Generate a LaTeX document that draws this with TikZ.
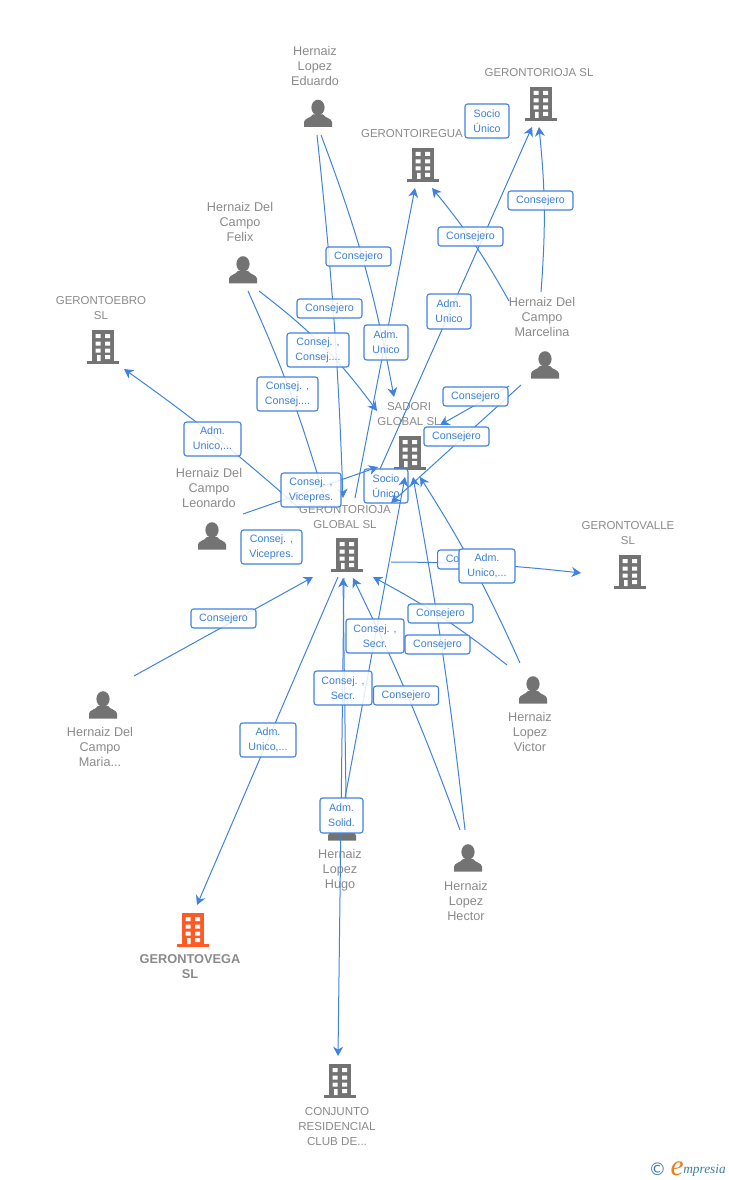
\documentclass[tikz,border=0pt]{standalone}
\usepackage{fontspec}
\setmainfont{Liberation Sans}
\newfontfamily\logofont{Liberation Serif}
\newfontfamily\dejafont{DejaVu Sans}
\usetikzlibrary{arrows.meta}
\definecolor{linkblue}{HTML}{3F82E0}
\definecolor{boxtext}{HTML}{3C7FDC}
\definecolor{icongray}{HTML}{737373}
\definecolor{textgray}{HTML}{8A8A8A}
\definecolor{iconorange}{HTML}{FF5A26}
\definecolor{logoblue}{HTML}{3F7F9E}
\definecolor{logoorange}{HTML}{F07D1A}
\tikzset{
  x=0.75pt,y=-0.75pt,
  pics/bldg/.style={code={
    \fill[#1] (-11,-17) rectangle (11,14);
    \fill[#1] (-16,14) rectangle (16,17);
    \fill[white] (-7.5,-13) rectangle (-2.5,-9) (2,-13) rectangle (7,-9)
      (-7.5,-5.5) rectangle (-2.5,-1.5) (2,-5.5) rectangle (7,-1.5)
      (-7.5,1.5) rectangle (-2.5,5.5) (2,1.5) rectangle (7,5.5)
      (-6,8) rectangle (-2.5,14) (2,8) rectangle (7,12);
  }},
  pics/persona/.style={code={
    \fill[icongray] (0,-6) ellipse (6.6 and 7.8);
    \fill[icongray] (-14,13.5) -- (-14,8.5) .. controls (-14,5) and (-7,4.5) .. (-5,1) -- (5,1)
       .. controls (7,4.5) and (14,5) .. (14,8.5) -- (14,13.5) -- cycle;
  }},
  iconpt/.style={inner sep=0pt,minimum size=0pt},
  pname/.style={align=center,inner sep=0pt,text=textgray,font=\fontsize{9.5}{11.25}\selectfont},
  cname/.style={align=center,inner sep=0pt,text=textgray,font=\fontsize{8.6}{11.25}\selectfont},
  cname2/.style={align=center,inner sep=0pt,text=textgray,font=\fontsize{8.7}{11.25}\selectfont},
  mainname/.style={align=center,inner sep=0pt,text=textgray,font=\fontsize{9.6}{11.25}\selectfont\bfseries},
  link/.style={draw=linkblue,line width=0.75pt},
  arr/.style={link,-{Stealth[length=7pt,width=7.5pt,inset=2.2pt]}},
  lbl/.style={draw=linkblue,line width=0.85pt,rounded corners=2pt,fill=white,fill opacity=0.86,text opacity=1,
     text=boxtext,align=center,inner sep=0pt,font=\fontsize{8}{11.25}\selectfont},
  bsize/.style 2 args={minimum width=#1*0.75pt,minimum height=#2*0.75pt},
  cons/.style={lbl,bsize={65}{19}},
}
\begin{document}
\begin{tikzpicture}
\useasboundingbox (0,0) rectangle (728,1180);
% icons
\node[iconpt] (iEduardo) at (318,113.5) {}; \pic at (iEduardo) {persona};
\node[iconpt] (iFelix) at (243,270) {}; \pic at (iFelix) {persona};
\node[iconpt] (iMarcelina) at (545,365) {}; \pic at (iMarcelina) {persona};
\node[iconpt] (iLeonardo) at (212,536) {}; \pic at (iLeonardo) {persona};
\node[iconpt] (iMaria) at (103,705) {}; \pic at (iMaria) {persona};
\node[iconpt] (iVictor) at (533,690) {}; \pic at (iVictor) {persona};
\node[iconpt] (iHugo) at (342,827) {}; \pic at (iHugo) {persona};
\node[iconpt] (iHector) at (468,858) {}; \pic at (iHector) {persona};
\node[iconpt] (iSL) at (541,104) {}; \pic at (iSL) {bldg=icongray};
\node[iconpt] (iIregua) at (423,165) {}; \pic at (iIregua) {bldg=icongray};
\node[iconpt] (iEbro) at (103,347) {}; \pic at (iEbro) {bldg=icongray};
\node[iconpt] (iSadori) at (410,453) {}; \pic at (iSadori) {bldg=icongray};
\node[iconpt] (iGlobal) at (347,555) {}; \pic at (iGlobal) {bldg=icongray};
\node[iconpt] (iValle) at (630,572) {}; \pic at (iValle) {bldg=icongray};
\node[iconpt] (iVega) at (193,930) {}; \pic at (iVega) {bldg=iconorange};
\node[iconpt] (iConjunto) at (340,1081) {}; \pic at (iConjunto) {bldg=icongray};
% names
\node[pname] (nEduardo) at (315,66) {Hernaiz\\Lopez\\Eduardo};
\node[cname] (nSL) at (539,73) {GERONTORIOJA SL};
\node[cname] (nIregua) at (412,134) {GERONTOIREGUA};
\node[pname] (nFelix) at (240,222) {Hernaiz Del\\Campo\\Felix};
\node[cname] (nEbro) at (101,308.5) {GERONTOEBRO\\SL};
\node[pname] (nMarcelina) at (542,317) {Hernaiz Del\\Campo\\Marcelina};
\node[cname] (nSadori) at (409,414.5) {SADORI\\GLOBAL SL};
\node[pname] (nLeonardo) at (209,488) {Hernaiz Del\\Campo\\Leonardo};
\node[cname] (nGlobal) at (345,517.5) {GERONTORIOJA\\GLOBAL SL};
\node[cname] (nValle) at (628,533.5) {GERONTOVALLE\\SL};
\node[pname] (nMaria) at (100,747) {Hernaiz Del\\Campo\\Maria...};
\node[pname] (nVictor) at (530,732) {Hernaiz\\Lopez\\Victor};
\node[pname] (nHugo) at (340,870) {Hernaiz\\Lopez\\Hugo};
\node[pname] (nHector) at (466,901) {Hernaiz\\Lopez\\Hector};
\node[mainname] (nVega) at (190,966.5) {GERONTOVEGA\\SL};
\node[cname2] (nConjunto) at (337,1126) {CONJUNTO\\RESIDENCIAL\\CLUB DE...};
% connector ends
\coordinate (eduA) at (321,135);   \coordinate (sadoriTop) at (394,397);
\coordinate (eduB) at (317,135);   \coordinate (globalTop) at (343,498);
\coordinate (felA) at (248,291);   \coordinate (felEnd) at (325,500);
\coordinate (felB) at (259,291);   \coordinate (sadoriLeft) at (377,411);
\coordinate (leoA) at (243,514);   \coordinate (sadoriLow) at (378,467);
\coordinate (globalW) at (299,508); \coordinate (ebroS) at (124,369);
\coordinate (mariaE) at (134,676); \coordinate (globalSW) at (313,577);
\coordinate (globalS) at (338,577); \coordinate (vegaN) at (197,905);
\coordinate (hugoA) at (346,798);  \coordinate (globalB1) at (343,578);
\coordinate (globalB2) at (344,578); \coordinate (conjN) at (338,1056);
\coordinate (hugoB) at (345,798);  \coordinate (sadoriB1) at (405,477);
\coordinate (hecA) at (460,830);   \coordinate (globalB3) at (353,578);
\coordinate (hecB) at (465,830);   \coordinate (sadoriB2) at (413,477);
\coordinate (vicA) at (520,663);   \coordinate (sadoriB3) at (420,477);
\coordinate (vicB) at (507,665);   \coordinate (globalB4) at (373,577);
\coordinate (globalE) at (391,562); \coordinate (valleW) at (581,573);
\coordinate (marA) at (521,385);   \coordinate (globalNE) at (391,503);
\coordinate (marB) at (509,386);   \coordinate (sadoriNE) at (440,425);
\coordinate (marC) at (509,301);   \coordinate (iregS2) at (432,188);
\coordinate (marD) at (541,292);   \coordinate (slS2) at (539,127);
\coordinate (sadN) at (380,469);   \coordinate (slS1) at (532,127);
\coordinate (globalN) at (355,498); \coordinate (iregS1) at (415,188);
% this label lies under the connectors that cross it
\node[lbl,bsize={44}{34}] (b14) at (386,486) {Socio\\Único};
% connectors
\draw[arr] (eduA) to[bend left=5] (sadoriTop);
\draw[arr] (eduB) to[bend left=2] (globalTop);
\draw[link] (felA) to[bend left=4] (felEnd);
\draw[arr] (felB) to[bend left=8] (sadoriLeft);
\draw[arr] (leoA) -- (sadoriLow);
\draw[arr] (globalW) to[bend right=3] (ebroS);
\draw[arr] (mariaE) -- (globalSW);
\draw[arr] (globalS) -- (vegaN);
\draw[arr] (hugoA) -- (globalB1);
\draw[arr] (globalB2) -- (conjN);
\draw[arr] (hugoB) -- (sadoriB1);
\draw[arr] (hecA) to[bend right=3] (globalB3);
\draw[arr] (hecB) to[bend right=2] (sadoriB2);
\draw[arr] (vicA) to[bend right=4] (sadoriB3);
\draw[arr] (vicB) to[bend right=5] (globalB4);
\draw[arr] (globalE) to[bend left=3] (valleW);
\draw[arr] (marA) -- (globalNE);
\draw[arr] (marB) -- (sadoriNE);
\draw[arr] (marC) to[bend right=5] (iregS2);
\draw[arr] (marD) to[bend right=5] (slS2);
\draw[arr] (sadN) -- (slS1);
\draw[arr] (globalN) -- (iregS1);
% labels
\node[lbl,bsize={44}{34}] (b1) at (487,121) {Socio\\Único};
\node[cons] (b2) at (540.5,200.5) {Consejero};
\node[cons] (b3) at (470.5,236.5) {Consejero};
\node[cons] (b4) at (358.5,256.5) {Consejero};
\node[lbl,bsize={44}{35}] (b5) at (449,311.5) {Adm.\\Unico};
\node[cons] (b6) at (329.5,308.5) {Consejero};
\node[lbl,bsize={62}{34}] (b7) at (318,350) {Consej. ,\\Consej....};
\node[lbl,bsize={44}{35}] (b8) at (386,342.5) {Adm.\\Unico};
\node[lbl,bsize={61}{34}] (b9) at (287.5,394) {Consej. ,\\Consej....};
\node[cons] (b10) at (475.5,396.5) {Consejero};
\node[cons] (b11) at (456.5,436.5) {Consejero};
\node[lbl,bsize={57}{34}] (b12) at (212.5,439) {Adm.\\Unico,...};
\node[lbl,bsize={60}{34}] (b13) at (311,490) {Consej. ,\\Vicepres.};
\node[lbl,bsize={61}{34}] (b15) at (271.5,547) {Consej. ,\\Vicepres.};
\node[cons,anchor=west] (b16) at (437,559.5) {Consejero};
\node[lbl,fill opacity=1,bsize={56}{34}] (b17) at (487,566) {Adm.\\Unico,...};
\node[cons] (b18) at (223.5,618.5) {Consejero};
\node[cons] (b19) at (440.5,613.5) {Consejero};
\node[lbl,bsize={58}{34}] (b20) at (375,636) {Consej. ,\\Secr.};
\node[cons] (b21) at (437.5,644.5) {Consejero};
\node[lbl,bsize={58}{34}] (b22) at (343,688) {Consej. ,\\Secr.};
\node[cons] (b23) at (406,695.5) {Consejero};
\node[lbl,bsize={56}{34}] (b24) at (268,740) {Adm.\\Unico,...};
\node[lbl,fill opacity=1,bsize={43}{35}] (b25) at (341.5,815.5) {Adm.\\Solid.};
% logo
\node[inner sep=0pt,text=logoblue,font=\dejafont\fontsize{13}{14}\selectfont] (logoC) at (657.5,1169) {©};
\node[inner sep=0pt,text=logoorange,font=\logofont\itshape\fontsize{22}{24}\selectfont] (logoE) at (677,1169) {e};
\node[inner sep=0pt,anchor=west,text=logoblue,font=\logofont\itshape\fontsize{10}{12}\selectfont] (logoT) at (683,1170) {mpresia};
\end{tikzpicture}
\end{document}
